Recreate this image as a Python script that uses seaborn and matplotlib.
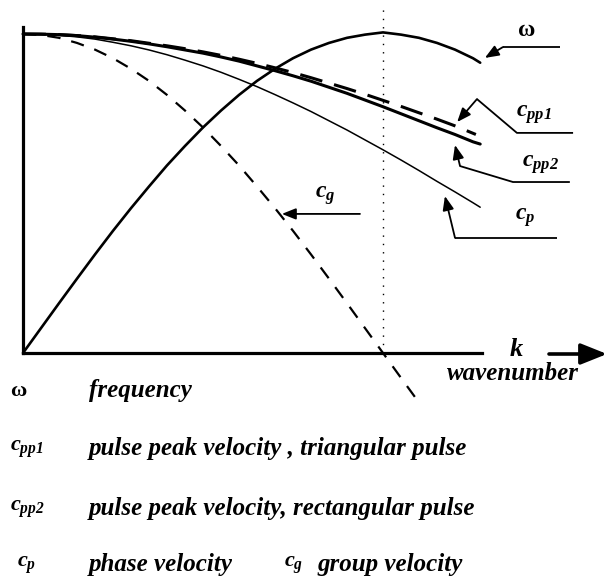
import matplotlib
matplotlib.use("Agg")
import matplotlib.pyplot as plt
import seaborn as sns
import pandas as pd

# Normalised wavenumber (k = 1 at the zone edge, dotted line)
k = [0.0, 0.05, 0.1, 0.15, 0.2, 0.25, 0.3, 0.35, 0.4, 0.45, 0.5, 0.55, 0.6,
     0.65, 0.7, 0.75, 0.8, 0.85, 0.9, 0.95, 1.0, 1.05, 1.1, 1.15, 1.2, 1.25,
     1.27]
omega = [0.0, 0.078, 0.156, 0.233, 0.309, 0.383, 0.454, 0.522, 0.588, 0.649,
         0.707, 0.760, 0.809, 0.853, 0.891, 0.924, 0.951, 0.972, 0.988, 0.998,
         1.005, 0.998, 0.988, 0.972, 0.951, 0.924, 0.91]
c_p = [1.0, 0.999, 0.996, 0.991, 0.984, 0.974, 0.963, 0.950, 0.935, 0.918,
       0.900, 0.880, 0.858, 0.835, 0.810, 0.784, 0.757, 0.728, 0.699, 0.668,
       0.637, 0.605, 0.572, 0.538, 0.505, 0.471, 0.457]
c_pp2 = [1.0, 0.9995, 0.998, 0.995, 0.99, 0.984, 0.977, 0.969, 0.96, 0.95,
         0.94, 0.928, 0.915, 0.90, 0.885, 0.869, 0.852, 0.833, 0.814, 0.793,
         0.772, 0.750, 0.728, 0.706, 0.685, 0.662, 0.655]

k_pp1 = [0.0, 0.05, 0.1, 0.15, 0.2, 0.25, 0.3, 0.35, 0.4, 0.45, 0.5, 0.55,
         0.6, 0.65, 0.7, 0.75, 0.8, 0.85, 0.9, 0.95, 1.0, 1.05, 1.1, 1.15,
         1.2, 1.258]
c_pp1 = [1.0, 0.9995, 0.998, 0.995, 0.991, 0.985, 0.979, 0.971, 0.963, 0.954,
         0.944, 0.933, 0.921, 0.908, 0.894, 0.879, 0.863, 0.846, 0.829, 0.811,
         0.792, 0.773, 0.753, 0.733, 0.712, 0.685]

k_g = [0.0, 0.05, 0.1, 0.15, 0.2, 0.25, 0.3, 0.35, 0.4, 0.45, 0.5, 0.55, 0.6,
       0.65, 0.7, 0.75, 0.8, 0.85, 0.9, 0.95, 1.0, 1.05, 1.103]
c_g = [1.0, 0.997, 0.988, 0.972, 0.951, 0.924, 0.891, 0.853, 0.809, 0.760,
       0.707, 0.649, 0.588, 0.522, 0.454, 0.383, 0.309, 0.233, 0.156, 0.078,
       0.0, -0.078, -0.16]

k_edge = 1.0

legend_symbols = ["ω", r"$c_{pp1}$", r"$c_{pp2}$", r"$c_p$"]
legend_texts = ["frequency",
                "pulse peak velocity , triangular pulse",
                "pulse peak velocity, rectangular pulse",
                "phase velocity"]

sns.set_theme(style="white")
plt.rcParams["font.family"] = ["Liberation Serif", "DejaVu Serif"]
plt.rcParams["text.color"] = "black"
plt.rcParams["mathtext.fontset"] = "custom"
plt.rcParams["mathtext.it"] = "Liberation Serif:bold:italic"
plt.rcParams["mathtext.rm"] = "Liberation Serif:bold:italic"
plt.rcParams["mathtext.bf"] = "Liberation Serif:bold:italic"

W, H = 607, 579
fig = plt.figure(figsize=(W / 100, H / 100), dpi=100)
fig.patch.set_facecolor("white")
ax = fig.add_axes([23 / W, (H - 353) / H, 459 / W, 326 / H])
ax.set_xlim(0, 459 / 360)
ax.set_ylim(0, 326 / 319)
ax.set_facecolor("white")

df = pd.DataFrame({"k": k, "omega": omega, "c_p": c_p, "c_pp2": c_pp2})
df1 = pd.DataFrame({"k": k_pp1, "c_pp1": c_pp1})
dfg = pd.DataFrame({"k": k_g, "c_g": c_g})

sns.lineplot(data=df, x="k", y="omega", ax=ax, color="black", lw=1.9,
             clip_on=False)
sns.lineplot(data=df, x="k", y="c_p", ax=ax, color="black", lw=1.1,
             clip_on=False)
sns.lineplot(data=df, x="k", y="c_pp2", ax=ax, color="black", lw=2.2,
             clip_on=False)
sns.lineplot(data=df1, x="k", y="c_pp1", ax=ax, color="black", lw=2.2,
             linestyle=(0, (7.5, 4.0)), clip_on=False)
sns.lineplot(data=dfg, x="k", y="c_g", ax=ax, color="black", lw=1.6,
             linestyle=(0, (6, 5)), clip_on=False)

# zone edge
ax.plot([k_edge, k_edge], [0, 1.081], color="black", lw=1.0,
        linestyle=(0, (1, 5)), clip_on=False)

ax.set_xlabel("")
ax.set_ylabel("")
ax.set_xticks([])
ax.set_yticks([])
for s in ["top", "right"]:
    ax.spines[s].set_visible(False)
for s in ["left", "bottom"]:
    ax.spines[s].set_linewidth(2.3)
    ax.spines[s].set_color("black")

lab_kw = dict(fontsize=17, fontweight="bold", fontstyle="italic",
              ha="center", va="center", color="black")
arrow_kw = dict(arrowstyle="-|>,head_length=0.7,head_width=0.28",
                mutation_scale=12, lw=1.3, color="black",
                shrinkA=0, shrinkB=0)


def leader(points, label, label_xy, **extra):
    xs = [p[0] for p in points[:-1]]
    ys = [p[1] for p in points[:-1]]
    ax.plot(xs, ys, color="black", lw=1.3, clip_on=False,
            solid_capstyle="butt")
    ax.annotate("", xy=points[-1], xytext=points[-2],
                arrowprops=arrow_kw, annotation_clip=False)
    kw = dict(lab_kw)
    kw.update(extra)
    ax.text(label_xy[0], label_xy[1], label, **kw)


leader([(1.492, 0.959), (1.333, 0.959), (1.283, 0.925)],
       "ω", (1.40, 1.012), fontstyle="normal")
leader([(1.528, 0.690), (1.372, 0.690), (1.261, 0.796), (1.206, 0.724)],
       r"$c_{pp1}$", (1.42, 0.746))
leader([(1.519, 0.536), (1.361, 0.536), (1.214, 0.586), (1.200, 0.652)],
       r"$c_{pp2}$", (1.436, 0.592))
leader([(1.483, 0.361), (1.200, 0.361), (1.172, 0.492)],
       r"$c_p$", (1.394, 0.423))
leader([(0.936, 0.436), (0.719, 0.436)],
       r"$c_g$", (0.839, 0.492))

# wavenumber axis arrow and labels
ax.annotate("", xy=(607, H - 354), xytext=(549, H - 354),
            xycoords="figure pixels", textcoords="figure pixels",
            arrowprops=dict(arrowstyle="-|>,head_length=0.8,head_width=0.32",
                            mutation_scale=20, lw=2.6, color="black",
                            shrinkA=0, shrinkB=0))
fig.text(516 / W, (H - 350) / H, "k", fontsize=19, fontweight="bold",
         fontstyle="italic", ha="center", va="center")
fig.text(513 / W, (H - 374) / H, "wavenumber", fontsize=18, fontweight="bold",
         fontstyle="italic", ha="center", va="center")

# key
rows_y = [391, 449, 509, 565]
sym_x = [10, 10, 10, 17]
for sym, txt, y, sx in zip(legend_symbols, legend_texts, rows_y, sym_x):
    fig.text(sx / W, (H - y) / H, sym, fontsize=16, fontweight="bold",
             ha="left", va="center")
    fig.text(89 / W, (H - y) / H, txt, fontsize=18, fontweight="bold",
             fontstyle="italic", ha="left", va="center")
fig.text(284 / W, (H - 565) / H, r"$c_g$", fontsize=16, ha="left", va="center")
fig.text(317 / W, (H - 565) / H, "group velocity", fontsize=18,
         fontweight="bold", fontstyle="italic", ha="left", va="center")

fig.savefig("out.png", dpi=100, facecolor="white")
